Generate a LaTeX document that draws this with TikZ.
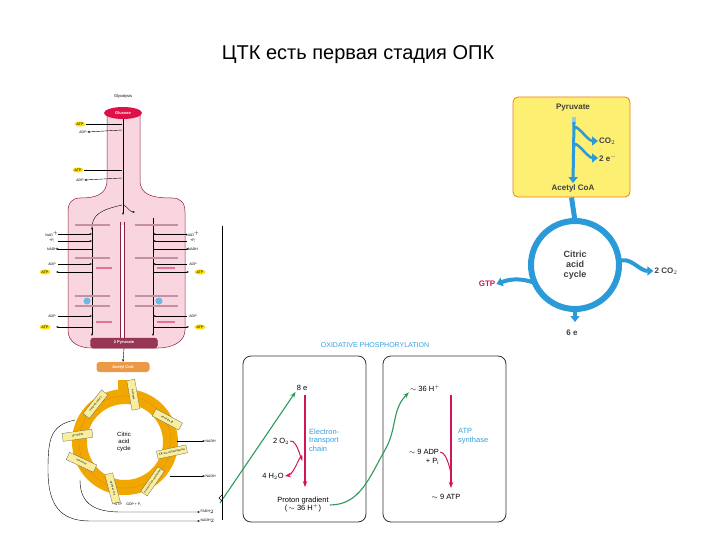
\documentclass[tikz,border=0pt]{standalone}
\usepackage{fontspec}
\setmainfont{Liberation Sans}
\usetikzlibrary{arrows.meta,shapes.geometric,calc}
\definecolor{cblue}{HTML}{2A9BD8}
\definecolor{mag}{HTML}{D4145A}
\definecolor{ox}{HTML}{3AA0D8}
\definecolor{grn}{HTML}{2E9A5A}
\definecolor{pinkf}{HTML}{F9D5E0}
\definecolor{pinkd}{HTML}{8B2042}
\definecolor{ring}{HTML}{F0A800}
\definecolor{enz}{HTML}{F8EE9E}
\definecolor{ybox}{HTML}{FCEF72}
\tikzset{
 lab/.style={font=\fontsize{9}{10}\selectfont,inner sep=1pt},
 tiny/.style={font=\fontsize{3.5}{4}\selectfont,inner sep=0.5pt},
 atp/.style={ellipse,fill=yellow!80!orange,inner sep=0.6pt,font=\fontsize{3.5}{4}\selectfont},
 panel/.style={draw=black!80,rounded corners=8pt,line width=0.8pt},
 bluearr/.style={cblue,line width=4pt,-{Triangle[length=6pt,width=9pt]}},
 magarr/.style={mag,line width=1.2pt,-{Stealth[length=6pt]}},
 grnarr/.style={grn,line width=1.1pt,-{Stealth[length=6pt]}},
 thin/.style={line width=0.4pt,-{Stealth[length=2.5pt]}},
 enzbox/.style={draw=black!60,fill=enz,minimum width=30pt,minimum height=8pt,inner sep=0pt,line width=0.3pt}
}
\begin{document}
\begin{tikzpicture}[x=1pt,y=-1pt]
\useasboundingbox (0,0) rectangle (720,540);
\fill[white] (0,0) rectangle (720,540);
\node[font=\fontsize{20}{24}\selectfont] (title) at (358,55) {ЦТК есть первая стадия ОПК};

% ---------- right top: pyruvate box ----------
\node[panel,draw=orange!70!brown,fill=ybox,rounded corners=5pt,minimum width=117pt,minimum height=100pt] (ybx) at (571.5,147) {};
\node[lab,font=\fontsize{8}{9}\selectfont\bfseries,text=black!75] (pyr) at (573,108) {Pyruvate};
\node[lab,font=\fontsize{8}{9}\selectfont\bfseries,text=black!75] (acoa) at (573,188) {Acetyl CoA};
\node[lab,font=\fontsize{8}{9}\selectfont\bfseries,text=black!75,anchor=west] (co2a) at (598,141) {CO$_2$};
\node[lab,font=\fontsize{8}{9}\selectfont\bfseries,text=black!75,anchor=west] (ea) at (598,158) {2 e$^-$};
\draw[cblue!50,line width=4pt] (574,117) -- (574,124);
\draw[bluearr,line width=3pt] (574,122) -- (acoa.north);
\draw[bluearr,line width=2.5pt] (574,130) to[out=90,in=180] (co2a.west);
\draw[bluearr,line width=2.5pt] (574,147) to[out=90,in=180] (ea.west);

% ---------- citric acid cycle ----------
\coordinate (cc) at (575,265);
\draw[cblue,line width=6pt] (cc) circle (44);
\node[lab,align=center,font=\fontsize{9}{10}\selectfont\bfseries,text=black!75] (cac) at (cc) {Citric\\acid\\cycle};
\draw[cblue,line width=5pt] (ybx.south) -- (575,221);
\node[lab,text=mag,font=\fontsize{8}{9}\selectfont\bfseries] (gtp) at (487,284) {GTP};
\node[lab,font=\fontsize{8}{9}\selectfont\bfseries,text=black!75] (co2b) at (666,271) {2 CO$_2$};
\node[lab,font=\fontsize{8}{9}\selectfont\bfseries,text=black!75] (six) at (572,333) {6 e};
\draw[bluearr] (535,283) to[out=160,in=20] (gtp.east);
\draw[bluearr] (617,262) to[out=30,in=180] (co2b.west);
\draw[bluearr] (575,309) -- (575,322);

% ---------- oxidative phosphorylation ----------
\node[lab,text=ox,font=\fontsize{7}{8}\selectfont] (oxt) at (375,345) {OXIDATIVE PHOSPHORYLATION};
\node[panel,minimum width=123pt,minimum height=166pt] (p1) at (304.5,439) {};
\node[panel,minimum width=123pt,minimum height=166pt] (p2) at (444.5,439) {};
\node[lab,font=\fontsize{7.5}{8}\selectfont] (e8) at (302,388) {8 e};
\node[lab,align=center,font=\fontsize{7.5}{8}\selectfont] (pg) at (303,505) {Proton gradient\\(\,$\sim$ 36 H$^+$)};
\draw[magarr] (305,395) -- (305,487);
\node[lab,text=ox,align=left,anchor=west,font=\fontsize{7.5}{8.5}\selectfont] (etc) at (308,440) {Electron-\\transport\\chain};
\node[lab,font=\fontsize{7.5}{8}\selectfont] (o2) at (281,441) {2 O$_2$};
\node[lab,font=\fontsize{7.5}{8}\selectfont] (h2o) at (273,476) {4 H$_2$O};
\draw[magarr,line width=1pt] (o2.east) to[out=10,in=-90] (302,458) to[out=90,in=10] (h2o.east);

\node[lab,font=\fontsize{7.5}{8}\selectfont] (h36) at (425,388) {$\sim$ 36 H$^+$};
\node[lab,font=\fontsize{7.5}{8}\selectfont] (atp9) at (446,497) {$\sim$ 9 ATP};
\draw[magarr] (451,395) -- (451,488);
\node[lab,text=ox,align=left,anchor=west,font=\fontsize{7.5}{8.5}\selectfont] (syn) at (457,436) {ATP\\synthase};
\node[lab,align=right,font=\fontsize{7.5}{8.5}\selectfont] (adp) at (424,457) {$\sim$ 9 ADP\\+ P$_\mathrm{i}$};
\draw[mag,line width=1pt] (440,452) to[out=0,in=-90] (451,470);

\coordinate (gs) at (220,503);
\draw[grnarr] (gs) -- (e8.south west);
\draw[grnarr] (pg.east) to[out=0,in=-120] (385,450) to[out=60,in=-135] (h36.south west);

% ---------- glycolysis (left) ----------
\node[tiny,font=\fontsize{4}{5}\selectfont] (gly) at (123,96) {Glycolysis};
\fill[pinkf,draw=pinkd,line width=0.5pt]
 (107,112) -- (107,180) .. controls (107,195) and (95,198) .. (80,198)
 .. controls (72,198) and (68,203) .. (68,212) -- (68,330)
 .. controls (68,342) and (78,348) .. (92,348) -- (158,348)
 .. controls (172,348) and (185,342) .. (185,330) -- (185,212)
 .. controls (185,203) and (181,198) .. (172,198)
 .. controls (152,198) and (140,195) .. (140,180) -- (140,112) -- cycle;
\draw[white,line width=3pt] (122,225) -- (122,338);
\draw[pinkd,line width=0.4pt] (120,222) -- (120,338) (124,222) -- (124,338);
\node[ellipse,fill=mag!80!red,minimum width=38pt,minimum height=12pt,inner sep=0pt,text=white,font=\fontsize{4}{5}\selectfont\bfseries] (glc) at (123,113) {Glucose};
\node[draw=pinkd,fill=pinkd!90,rounded corners=3pt,minimum width=67pt,minimum height=10pt,inner sep=0pt,text=white,font=\fontsize{4}{5}\selectfont\bfseries] (pyr2) at (124,343) {2 Pyruvate};
\draw[thin] (glc.south) -- (123,215);
\draw[thin] (122,205) .. controls (100,210) and (92,215) .. (92,230);
\draw[thin] (124,205) .. controls (128,208) and (130,212) .. (135,212);
\draw[thin] (92,228) -- (92,336);
\draw[thin] (153,218) -- (153,336);
% side labels
\node[atp] (a1) at (80,124) {ATP};
\node[tiny] (d1) at (83,132) {ADP};
\draw[thin,-] (a1.east) -- (122,124); \draw[thin] (122,130) -- (d1.east);
\node[atp] (a2) at (78,170) {ATP};
\node[tiny] (d2) at (80,180) {ADP};
\draw[thin,-] (a2.east) -- (122,170); \draw[thin] (122,178) -- (d2.east);
\foreach \s/\xa/\xb/\xc/\xl in {-1/52/92/45/L, 1/193/153/200/R}{
 \node[tiny] at (\xa,234) {NAD$^+$};
 \node[tiny] at (\xa,241) {+P$_\mathrm{i}$};
 \node[tiny] at (\xa,249) {NADH};
 \node[tiny] at (\xa,264) {ADP};
 \node[atp] at (\xc,272) {ATP};
 \node[tiny] at (\xa,316) {ADP};
 \node[atp] at (\xc,327) {ATP};
}
\foreach \y in {234,241,264,316}{\draw[thin] (58,\y) -- (92,\y); \draw[thin] (187,\y) -- (153,\y);}
\foreach \y in {249,272,327}{\draw[thin] (92,\y) -- (56,\y); \draw[thin] (153,\y) -- (189,\y);}
\foreach \y in {225,258,296,306}{\draw[pinkd!50,line width=1.5pt] (75,\y) -- (110,\y); \draw[pinkd!50,line width=1.5pt] (135,\y) -- (178,\y);}
\foreach \y in {268,322}{\draw[mag!60,line width=1.5pt] (96,\y) -- (112,\y); \draw[mag!60,line width=1.5pt] (157,\y) -- (175,\y);}
\fill[cblue!70] (87,301) circle (3.5); \fill[cblue!70] (159,301) circle (3.5);

% Acetyl CoA & citric cycle ring
\node[fill=brown!40!orange!80,rounded corners=3pt,minimum width=53pt,minimum height=10pt,inner sep=0pt,text=white,font=\fontsize{4}{5}\selectfont\bfseries] (acl) at (123,367) {Acetyl CoA};
\draw[thin] (pyr2.south) -- (acl.north);
\coordinate (rc) at (125,442);
\fill[ring,even odd rule] (rc) circle (53) (rc) circle (38);
\draw[orange!80!brown,line width=0.3pt] (rc) circle (46);
\fill[ring] (118,380) rectangle (130,392);
\foreach \a/\t in {128/Citrate synthase,80/Aconitase,28/Isocitrate dh,-12/$\alpha$-KG dehydrogenase,-55/Succinyl CoA synthetase,-105/Succinate dh,-155/Fumarase,172/Malate dh}{
 \node[enzbox,rotate=-\a,font=\fontsize{2.5}{3}\selectfont] at ($(rc)+({48*cos(\a)},{-48*sin(\a)})$) {\t};
}
\node[align=center,font=\fontsize{6}{7}\selectfont] (cac2) at (124,442) {Citric\\acid\\cycle};
\node[tiny,anchor=west] (n1) at (205,441) {NADH};
\node[tiny,anchor=west] (n2) at (205,476) {NADH};
\node[tiny,anchor=west] (f1) at (200,512) {FADH$_2$};
\node[tiny,anchor=west] (n3) at (200,521) {NADH$_2$};
\node[tiny] (gg) at (128,505) {GTP \quad GDP + P$_\mathrm{i}$};
\draw[thin] (177,441) -- (n1.west);
\draw[thin] (170,476) -- (n2.west);
\draw[thin] (80,480) .. controls (80,500) and (90,512) .. (120,512) -- (f1.west);
\draw[thin] (75,420) .. controls (50,425) and (48,440) .. (48,470) .. controls (48,505) and (60,521) .. (90,521) -- (n3.west);
% bracket
\draw[line width=0.4pt] (222,226) -- (222,520);
\draw[line width=0.4pt] (222,495) -- (219,498) -- (222,501);
\end{tikzpicture}
\end{document}
